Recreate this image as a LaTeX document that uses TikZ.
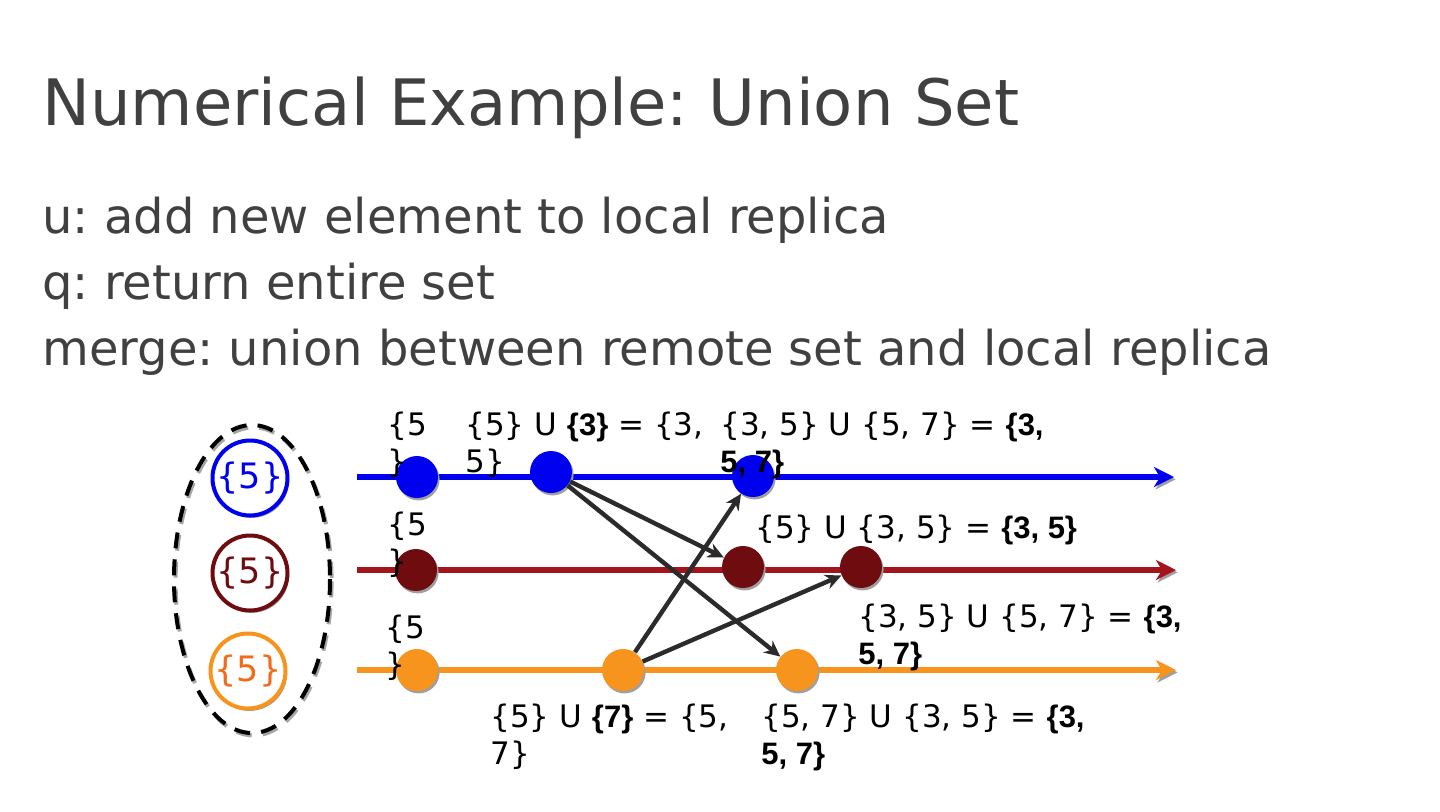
\documentclass[tikz,border=0pt]{standalone}
\usepackage{fontspec}
\setmainfont{DejaVu Sans}
\newfontfamily\arialfont{Liberation Sans}
\usepackage{tikz}
\usetikzlibrary{arrows.meta,shadows}
\frenchspacing

\definecolor{titlegray}{HTML}{404040}
\definecolor{repblue}{HTML}{0000F0}
\definecolor{repred}{HTML}{A3141C}
\definecolor{repmaroon}{HTML}{6E0C10}
\definecolor{reporange}{HTML}{F7941D}
\definecolor{orangetext}{HTML}{F26B1D}
\definecolor{msggray}{HTML}{2B2B2B}
\newcommand{\hl}[1]{{\arialfont\bfseries #1}}

\begin{document}
\begin{tikzpicture}[x=0.5pt,y=-0.5pt,
  shade/.style={preaction={draw=gray!75,transform canvas={xshift=0.8pt,yshift=-1.2pt}}},
  dshadow/.style={drop shadow={shadow xshift=0.8pt,shadow yshift=-1.2pt,fill=gray!75,opacity=1}},
  group/.style={draw=black,line width=2pt,dash pattern=on 8pt off 5.5pt,
    preaction={draw=gray!70,line width=2pt,dash pattern=on 8pt off 5.5pt,transform canvas={xshift=0.8pt,yshift=-1.2pt}}},
  timeline/.style={draw=#1,line width=3pt,-{Stealth[length=10pt,width=10pt,inset=3pt]},shade},
  event/.style={circle,fill=#1,minimum size=21pt,inner sep=0pt,dshadow},
  replica/.style={circle,draw=#1,fill=white,line width=2pt,minimum size=37.5pt,inner sep=0pt,
    font=\fontsize{17.5}{20}\selectfont,dshadow},
  heading/.style={anchor=base west,inner sep=0pt,text=titlegray},
  lbl/.style={anchor=base west,inner sep=0pt,align=left,font=\fontsize{15.5}{18.5}\selectfont},
  msg/.style={draw=msggray,line width=2.2pt,-{Stealth[length=8pt,width=7.5pt]}}
]
\useasboundingbox (0,0) rectangle (1440,811);

% title and operations
\node[heading,font=\fontsize{32}{39}\selectfont] (title) at (42,125) {Numerical Example: Union Set};
\node[heading,font=\fontsize{24}{30}\selectfont] (opu) at (42,233) {u: add new element to local replica};
\node[heading,font=\fontsize{24}{30}\selectfont] (opq) at (42,299) {q: return entire set};
\node[heading,font=\fontsize{24}{30}\selectfont] (opm) at (42,365) {merge: union between remote set and local replica};

% initial replicas
\draw[group] (252,579) ellipse [x radius=78,y radius=154];
\node[replica=repblue,text=repblue] (r1) at (250,478) {\{5\}};
\node[replica=repmaroon,text=repmaroon] (r2) at (250,573) {\{5\}};
\node[replica=reporange,text=orangetext] (r3) at (248,671) {\{5\}};

% timelines
\coordinate (s1) at (357,477); \coordinate (e1) at (1174,477);
\coordinate (s2) at (357,570); \coordinate (e2) at (1176,570);
\coordinate (s3) at (357,670); \coordinate (e3) at (1176,670);
\draw[timeline=repblue] (s1) -- (e1);
\draw[timeline=repred] (s2) -- (e2);
\draw[timeline=reporange] (s3) -- (e3);

% events
\node[event=repblue] (b1) at (417,477) {};
\node[event=repblue] (b2) at (551,472) {};
\node[event=repblue] (b3) at (753,476) {};
\node[event=repmaroon] (m1) at (416,570) {};
\node[event=repmaroon] (m2) at (743,567) {};
\node[event=repmaroon] (m3) at (861,567) {};
\node[event=reporange] (o1) at (417,670) {};
\node[event=reporange] (o2) at (623,670) {};
\node[event=reporange] (o3) at (797,670) {};

% merges
\draw[msg] (b2) -- (m2);
\draw[msg] (b2) -- (o3);
\draw[msg] (o2) -- (b3);
\draw[msg] (o2) -- (m3);

% states (base = last line)
\node[lbl] (lb1) at (387,472) {\{5\\\}};
\node[lbl] (lb2) at (465,472) {\{5\} U \hl{\{3\}} = \{3,\\5\}};
\node[lbl] (lb3) at (720,472) {\{3, 5\} U \{5, 7\} = \hl{\{3,}\\\hl{5, 7\}}};
\node[lbl] (lm1) at (387,572) {\{5\\\}};
\node[lbl] (lm2) at (755,538) {\{5\} U \{3, 5\} = \hl{\{3, 5\}}};
\node[lbl] (lm3) at (858,664) {\{3, 5\} U \{5, 7\} = \hl{\{3,}\\\hl{5, 7\}}};
\node[lbl] (lo1) at (385,675) {\{5\\\}};
\node[lbl] (lo2) at (490,764) {\{5\} U \hl{\{7\}} = \{5,\\7\}};
\node[lbl] (lo3) at (761,764) {\{5, 7\} U \{3, 5\} = \hl{\{3,}\\\hl{5, 7\}}};
\end{tikzpicture}
\end{document}
